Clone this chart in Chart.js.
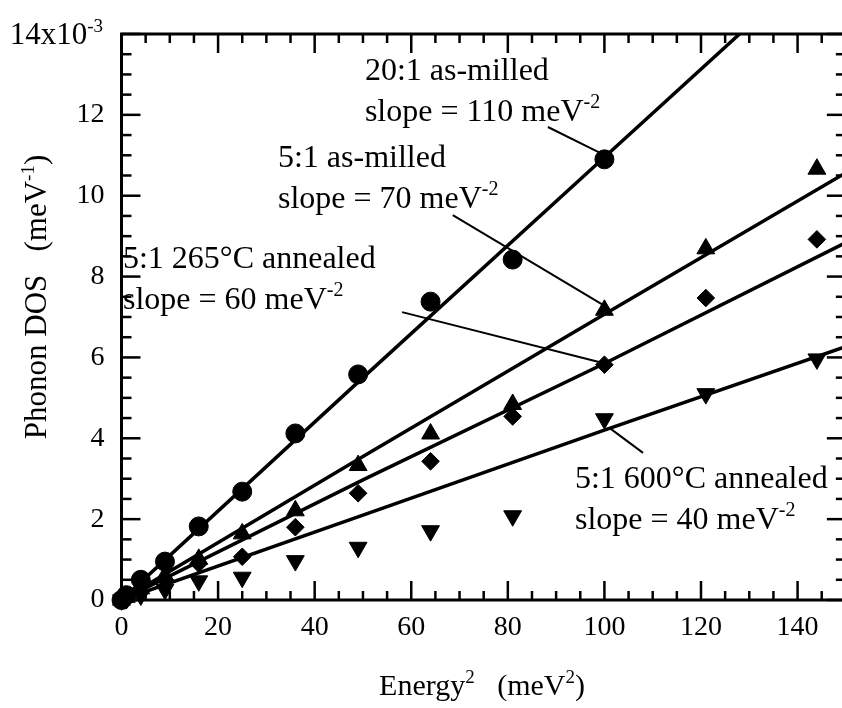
<!DOCTYPE html>
<html>
<head>
<meta charset="utf-8">
<script src="https://cdn.jsdelivr.net/npm/chart.js@4.4.1/dist/chart.umd.min.js"></script>
<style>
  html, body { margin: 0; padding: 0; background: #fff; }
  canvas { display: block; }
</style>
</head>
<body>
<canvas id="dosChart" width="842" height="708"></canvas>
<script>
// Messpunkte: Energy^2 (meV^2) und Phonon DOS (x10^-3 meV^-1)
var energySq = [0, 1, 4, 9, 16, 25, 36, 49, 64, 81, 100, 121, 144];
var dos20AsMilled = [0, 0.12, 0.5, 0.95, 1.82, 2.68, 4.12, 5.58, 7.38, 8.42, 10.9];
var dos5AsMilled = [0, 0.07, 0.28, 0.6, 1.01, 1.64, 2.21, 3.33, 4.11, 4.84, 7.17, 8.69, 10.66];
var dos5Ann265 = [0, 0.05, 0.22, 0.5, 0.9, 1.07, 1.8, 2.64, 3.43, 4.54, 5.82, 7.47, 8.92];
var dos5Ann600 = [0, 0.03, 0.12, 0.26, 0.47, 0.56, 0.97, 1.3, 1.71, 2.08, 4.48, 5.1, 5.96];

// Geraden (Fits)
var fitX = [0, 50, 100, 150];
var fit20AsMilled = [0, 5.5, 10.95, 16.4];
var fit5AsMilled = [0, 3.55, 7.07, 10.57];
var fit5Ann265 = [0, 2.97, 5.85, 8.84];
var fit5Ann600 = [0, 2.1, 4.2, 6.27];

// Achsenbeschriftung
var xTickValues = [0, 20, 40, 60, 80, 100, 120, 140];
var yTickValues = [0, 2, 4, 6, 8, 10, 12];
var xAxisEnd = 150;      // eigentliches Achsenende (Rahmen rechts)
var xVisibleMax = 149.2; // im Bild ist der rechte Rand knapp abgeschnitten

// Beschriftungen im Diagramm (Text, Hochzahl)
var labelLines = [
    [['20:1 as-milled', ''], ['slope = 110 meV', '-2']],
    [['5:1 as-milled', ''], ['slope = 70 meV', '-2']],
    [['5:1 265\u00B0C annealed', ''], ['slope = 60 meV', '-2']],
    [['5:1 600\u00B0C annealed', ''], ['slope = 40 meV', '-2']]
];
// Anker in Datenkoordinaten: erste Zeile links, Grundlinie
var labelAnchors = [[50.4, 12.86], [32.4, 10.71], [0.3, 8.21], [93.9, 2.77]];
// Hinweislinien in Datenkoordinaten
var leaderLines = [
    [88.3, 11.70, 99.1, 11.06],
    [68.6, 9.52, 99.7, 7.30],
    [58.1, 7.12, 99.7, 5.86],
    [101.1, 4.25, 108.0, 3.64]
];

var FONT = '"Liberation Serif", "Times New Roman", serif';

function pts(xs, ys) {
    return ys.map(function(y, i) { return { x: xs[i], y: y }; });
}

// Text mit Hochzahlen zeichnen: segs = [[text, isSup], ...]
function richWidth(ctx, segs, size) {
    var w = 0;
    segs.forEach(function(s) {
        ctx.font = (s[1] ? Math.round(size * 0.62) : size) + 'px ' + FONT;
        w += ctx.measureText(s[0]).width;
    });
    return w;
}
function drawRich(ctx, segs, x, y, size) {
    ctx.textAlign = 'left';
    ctx.textBaseline = 'alphabetic';
    segs.forEach(function(s) {
        var sz = s[1] ? Math.round(size * 0.62) : size;
        ctx.font = sz + 'px ' + FONT;
        ctx.fillText(s[0], x, s[1] ? y - size * 0.4 : y);
        x += ctx.measureText(s[0]).width;
    });
}

function line(ctx, x1, y1, x2, y2) {
    ctx.beginPath();
    ctx.moveTo(x1, y1);
    ctx.lineTo(x2, y2);
    ctx.stroke();
}

// Rahmen, Ticks nach innen, Titel und Beschriftungen
var decorations = {
    id: 'decorations',
    afterDraw: function(chart) {
        var ctx = chart.ctx;
        var a = chart.chartArea;
        var xs = chart.scales.x, ys = chart.scales.y;
        var right = xs.getPixelForValue(xAxisEnd);
        ctx.save();
        ctx.strokeStyle = '#000';
        ctx.fillStyle = '#000';

        ctx.lineWidth = 3;
        ctx.strokeRect(a.left, a.top, right - a.left, a.bottom - a.top);

        ctx.lineWidth = 2.5;
        for (var v = 0; v <= xAxisEnd; v += 5) {
            var px = xs.getPixelForValue(v);
            var len = v % 20 === 0 ? 19 : 9;
            line(ctx, px, a.bottom, px, a.bottom - len);
            line(ctx, px, a.top, px, a.top + len);
        }
        for (var w = 0; w <= 14; w += 0.5) {
            var py = ys.getPixelForValue(w);
            var l2 = w % 2 === 0 ? 19 : 10;
            line(ctx, a.left, py, a.left + l2, py);
            line(ctx, right, py, right - l2, py);
        }

        // oberstes Tick-Label 14x10^-3
        var topSegs = [['14x10', 0], ['-3', 1]];
        var tw = richWidth(ctx, topSegs, 31);
        drawRich(ctx, topSegs, 103 - tw, ys.getPixelForValue(14) + 10, 31);

        // x-Achsentitel
        var xt = [['Energy', 0], ['2', 1], ['   (meV', 0], ['2', 1], [')', 0]];
        var xw = richWidth(ctx, xt, 30);
        drawRich(ctx, xt, 482 - xw / 2, 695, 30);

        // y-Achsentitel
        var yt = [['Phonon DOS   (meV', 0], ['-1', 1], [')', 0]];
        var yw = richWidth(ctx, yt, 31);
        ctx.save();
        ctx.translate(46, 297);
        ctx.rotate(-Math.PI / 2);
        drawRich(ctx, yt, -yw / 2, 0, 31);
        ctx.restore();

        // Beschriftungen der Kurven
        labelLines.forEach(function(lines, i) {
            var lx = xs.getPixelForValue(labelAnchors[i][0]);
            var ly = ys.getPixelForValue(labelAnchors[i][1]);
            lines.forEach(function(ln, j) {
                var segs = [[ln[0], 0]];
                if (ln[1]) segs.push([ln[1], 1]);
                drawRich(ctx, segs, lx, ly + j * 41, 32);
            });
        });

        ctx.lineWidth = 2;
        leaderLines.forEach(function(ld) {
            line(ctx, xs.getPixelForValue(ld[0]), ys.getPixelForValue(ld[1]),
                      xs.getPixelForValue(ld[2]), ys.getPixelForValue(ld[3]));
        });
        ctx.restore();
    }
};

function fitSet(ys) {
    return {
        data: pts(fitX, ys),
        showLine: true,
        borderColor: '#000',
        borderWidth: 3.5,
        pointRadius: 0,
        tension: 0,
        fill: false
    };
}
function markerSet(ys, style, radius, rotation) {
    return {
        data: pts(energySq, ys),
        showLine: false,
        pointStyle: style,
        pointRadius: radius,
        pointRotation: rotation || 0,
        backgroundColor: '#000',
        borderColor: '#000',
        borderWidth: 1,
        clip: false
    };
}

var tickFont = { family: FONT, size: 28 };

var config = {
    type: 'scatter',
    data: {
        datasets: [
            fitSet(fit20AsMilled),
            fitSet(fit5AsMilled),
            fitSet(fit5Ann265),
            fitSet(fit5Ann600),
            markerSet(dos20AsMilled, 'circle', 9.5),
            markerSet(dos5AsMilled, 'triangle', 10.3),
            markerSet(dos5Ann265, 'rectRot', 8.8),
            markerSet(dos5Ann600, 'triangle', 10.3, 180)
        ]
    },
    options: {
        responsive: false,
        animation: false,
        events: [],
        layout: { autoPadding: false, padding: { top: 34, right: 0, left: 0, bottom: 0 } },
        plugins: { legend: { display: false }, tooltip: { enabled: false } },
        scales: {
            x: {
                type: 'linear',
                min: 0,
                max: xVisibleMax,
                afterBuildTicks: function(axis) {
                    axis.ticks = xTickValues.map(function(v) { return { value: v }; });
                },
                afterFit: function(axis) {
                    axis.height = 108;
                    axis.paddingLeft = 0;
                    axis.paddingRight = 0;
                },
                grid: { display: false },
                border: { display: false },
                ticks: { font: tickFont, color: '#000', padding: 3, maxRotation: 0, autoSkip: false }
            },
            y: {
                type: 'linear',
                min: 0,
                max: 14,
                afterBuildTicks: function(axis) {
                    axis.ticks = yTickValues.map(function(v) { return { value: v }; });
                },
                afterFit: function(axis) {
                    axis.width = 121.5;
                    axis.paddingTop = 0;
                    axis.paddingBottom = 0;
                },
                grid: { display: false },
                border: { display: false },
                ticks: { font: tickFont, color: '#000', padding: 9, autoSkip: false }
            }
        }
    },
    plugins: [decorations]
};

var ctx = document.getElementById('dosChart');
var dosChart = new Chart(ctx, config);
</script>
</body>
</html>
